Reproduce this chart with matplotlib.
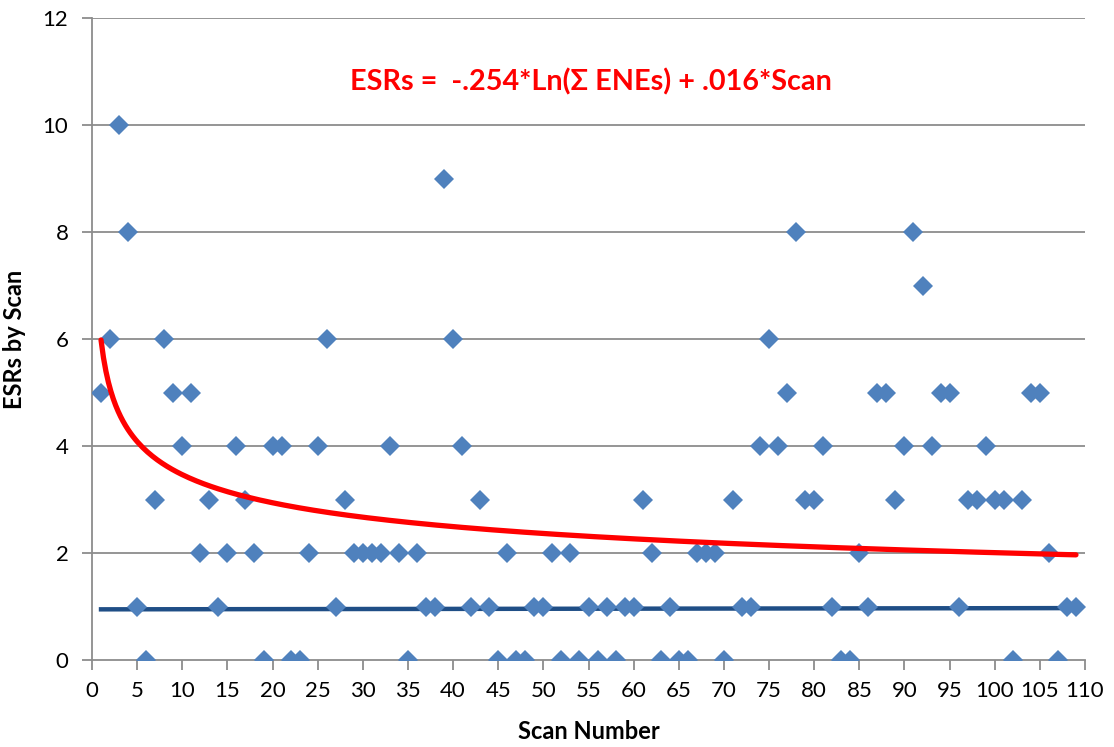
import matplotlib
matplotlib.use("Agg")
import matplotlib.pyplot as plt
import numpy as np

# ---- data ----
scans = list(range(1, 110))
esrs = [5, 6, 10, 8, 1, 0, 3, 6, 5, 4,
        5, 2, 3, 1, 2, 4, 3, 2, 0, 4,
        4, 0, 0, 2, 4, 6, 1, 3, 2, 2,
        2, 2, 4, 2, 0, 2, 1, 1, 9, 6,
        4, 1, 3, 1, 0, 2, 0, 0, 1, 1,
        2, 0, 2, 0, 1, 0, 1, 0, 1, 1,
        3, 2, 0, 1, 0, 0, 2, 2, 2, 0,
        3, 1, 1, 4, 6, 4, 5, 8, 3, 3,
        4, 1, 0, 0, 2, 1, 5, 5, 3, 4,
        8, 7, 4, 5, 5, 1, 3, 3, 4, 3,
        3, 0, 3, 5, 5, 2, 0, 1, 1]

# red trend curve
fit_x = [1, 1.5, 2, 3, 4, 5, 8.5, 11, 14, 20, 31, 42, 53, 70, 89, 109]
fit_y = [6.07, 5.6, 5.11, 4.55, 4.2, 3.99, 3.55, 3.36, 3.18, 2.97, 2.68, 2.46, 2.34, 2.21, 2.07, 1.96]

# dark blue baseline
base_x = [1, 109]
base_y = [0.947, 0.97]

x_ticks = list(range(0, 111, 5))
y_ticks = list(range(0, 13, 2))

equation = "ESRs =  -.254*Ln(\u03a3 ENEs) + .016*Scan"

# smooth power-law trendline through the read curve values (like Excel's trendline)
b, ln_a = np.polyfit(np.log(fit_x), np.log(fit_y), 1)
curve_x = np.linspace(min(fit_x), max(fit_x), 400)
curve_y = np.exp(ln_a) * curve_x ** b

# ---- drawing ----
plt.rcParams['font.family'] = ['Lato', 'DejaVu Sans']
fig = plt.figure(figsize=(11.14, 7.47), dpi=100)
ax = fig.add_axes([92/1114, 87/747, (1085-92)/1114, (660-18)/747])

grid_c = '#8c8c8c'
for yv in y_ticks[1:]:
    ax.axhline(yv, color=grid_c, lw=1.3, zorder=0)

ax.plot(scans, esrs, linestyle='none', marker='D', markersize=10.5,
        color='#4F81BD', markeredgewidth=0, zorder=3)
ax.plot(curve_x, curve_y, color='#FF0000', lw=3.8, solid_capstyle='round', zorder=4)
ax.plot(base_x, base_y, color='#1F4E86', lw=3.2, zorder=2)

ax.set_xlim(0, 110)
ax.set_ylim(0, 12)
ax.set_xticks(x_ticks)
ax.set_yticks(y_ticks)
ax.tick_params(axis='both', colors=grid_c, labelcolor='black', labelsize=16,
               length=7, width=1.3, direction='out')
ax.tick_params(axis='x', pad=8)
ax.tick_params(axis='y', pad=10)
for s in ['top', 'right']:
    ax.spines[s].set_visible(False)
for s in ['left', 'bottom']:
    ax.spines[s].set_color(grid_c)
    ax.spines[s].set_linewidth(1.3)

ax.set_xlabel('Scan Number', fontsize=17, fontweight='bold', labelpad=14)
ax.set_ylabel('ESRs by Scan', fontsize=17, fontweight='bold', labelpad=12)

ax.text(55.3, 10.8, equation, color='#FF0000', fontsize=20.7, fontweight='bold',
        ha='center', va='center')

fig.savefig('out.png', dpi=100)
